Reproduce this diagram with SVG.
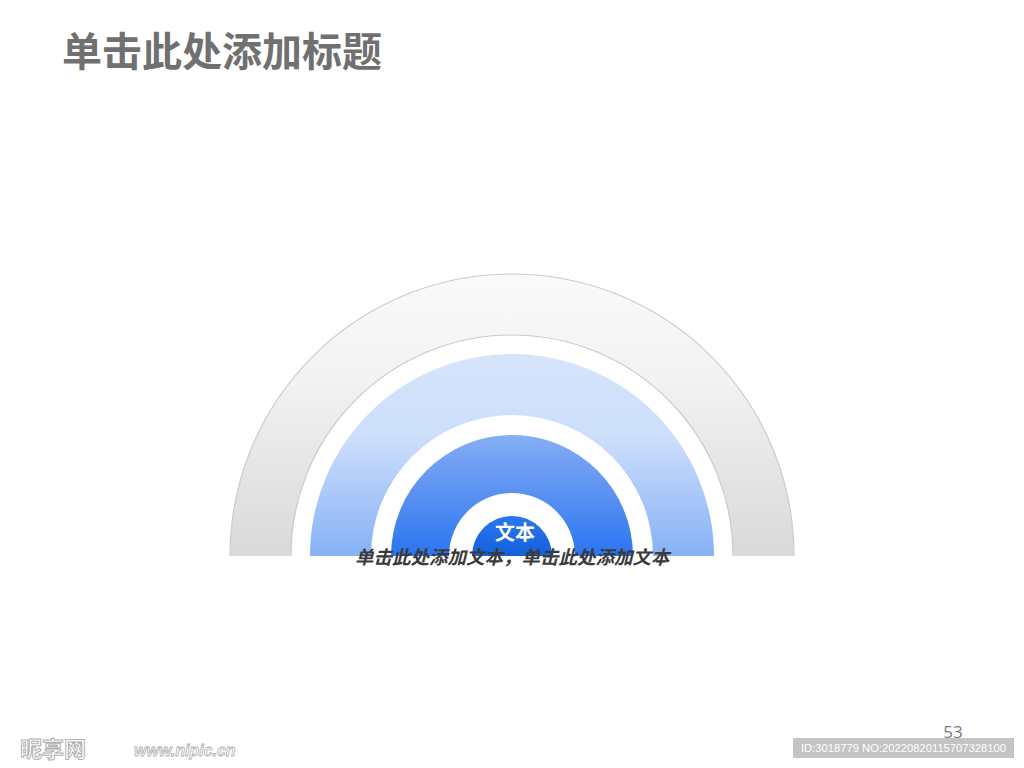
<svg xmlns="http://www.w3.org/2000/svg" width="1024" height="768" viewBox="0 0 1024 768">
<defs>
<linearGradient id="gGray" x1="0" y1="0" x2="0" y2="1">
<stop offset="0" stop-color="#fafafa"/><stop offset="0.35" stop-color="#f3f3f3"/><stop offset="1" stop-color="#d9d9d9"/>
</linearGradient>
<linearGradient id="gLight" x1="0" y1="0" x2="0" y2="1">
<stop offset="0" stop-color="#d6e4fb"/><stop offset="0.4" stop-color="#cddffb"/><stop offset="1" stop-color="#86b1f6"/>
</linearGradient>
<linearGradient id="gMid" x1="0" y1="0" x2="0" y2="1">
<stop offset="0" stop-color="#85aef5"/><stop offset="1" stop-color="#2b74f0"/>
</linearGradient>
<linearGradient id="gDark" x1="0" y1="0" x2="0" y2="1">
<stop offset="0" stop-color="#2a78ee"/><stop offset="1" stop-color="#1460dc"/>
</linearGradient>
<style>
.title{font-family:"Noto Sans CJK SC","Liberation Sans",sans-serif;font-weight:bold;font-size:40px;fill:#707070}
.body{font-family:"Noto Sans CJK SC","Liberation Sans",sans-serif;font-weight:bold;font-style:italic;font-size:18.5px;fill:#3a3a3a}
.center{font-family:"Noto Sans CJK SC","Liberation Sans",sans-serif;font-weight:bold;font-size:20px;fill:#ffffff}
.edge{fill:none;stroke:#cbcbcb;stroke-width:1.2}
.pg{font-family:"Open Sans","Liberation Sans",sans-serif;font-size:17px;fill:#7a7a7a}
.wm{font-family:"Liberation Sans",sans-serif;font-size:11px;fill:#ffffff}
.logo{font-family:"Noto Sans CJK SC","Liberation Sans",sans-serif;font-weight:bold;font-size:22px;fill:#ffffff;stroke:#b0b0b0;stroke-width:1}
.logo2{font-family:"Liberation Sans",sans-serif;font-style:italic;font-weight:bold;font-size:16px;fill:#ffffff;stroke:#b0b0b0;stroke-width:0.8}
</style>
</defs>
<rect width="1024" height="768" fill="#ffffff"/>
<g id="title"><text class="title" x="62" y="66">单击此处添加标题</text></g>
<g id="ring-gray">
<path d="M230 556 A282 282 0 0 1 794 556 L733 556 A221 221 0 0 0 291 556 Z" fill="url(#gGray)"/>
<path class="edge" d="M230 556 A282 282 0 0 1 794 556"/>
<path class="edge" d="M291 556 A221 221 0 0 1 733 556"/>
</g>
<g id="ring-light">
<path d="M310 556 A202 202 0 0 1 714 556 L653 556 A141 141 0 0 0 371 556 Z" fill="url(#gLight)"/>
</g>
<g id="ring-mid">
<path d="M391 556 A121 121 0 0 1 633 556 L575 556 A63 63 0 0 0 449 556 Z" fill="url(#gMid)"/>
</g>
<g id="core">
<path d="M472 556 A40 40 0 0 1 552 556 Z" fill="url(#gDark)"/>
<text class="center" x="515" y="540" text-anchor="middle">文本</text>
</g>
<g id="caption"><text class="body" x="355" y="564">单击此处添加文本，单击此处添加文本</text></g>
<g id="page"><text class="pg" x="953" y="738" text-anchor="middle">53</text></g>
<g id="watermark">
<text class="logo" x="20" y="757">昵享网</text>
<text class="logo2" x="134" y="756">www.nipic.cn</text>
<rect x="793" y="738" width="221" height="20" fill="#c4c4c4"/>
<text class="wm" x="801" y="752" textLength="205" lengthAdjust="spacingAndGlyphs">ID:3018779 NO:20220820115707328100</text>
</g>
</svg>
